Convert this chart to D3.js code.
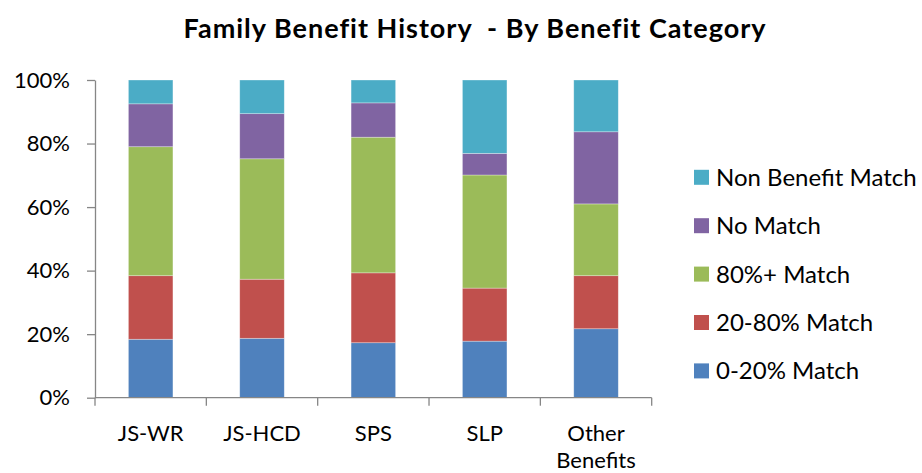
<!DOCTYPE html>
<html lang="en">
<head>
    <meta charset="UTF-8">
    <script src="https://d3js.org/d3.v7.min.js" charset="utf-8"></script>
    <title>Family Benefit History</title>
    <style>
        body { margin: 0; background: white; }
        svg text { font-family: Lato, "Open Sans", sans-serif; fill: #000; }
    </style>
</head>
<body>
<div id="chart"></div>

<script>
    const width = 922;
    const height = 473;

    // Categories and series (percent of each bar)
    const categories = ["JS-WR", "JS-HCD", "SPS", "SLP", "Other Benefits"];
    const seriesNames = ["0-20% Match", "20-80% Match", "80%+ Match", "No Match", "Non Benefit Match"];
    const match0to20 = [18.4, 18.7, 17.3, 17.8, 21.7];
    const match20to80 = [20.0, 18.6, 22.0, 16.7, 16.7];
    const match80plus = [40.6, 37.9, 42.7, 35.6, 22.6];
    const noMatch = [13.5, 14.2, 10.8, 6.8, 22.7];
    const nonBenefit = [7.5, 10.6, 7.2, 23.1, 16.3];
    const yTicks = [0, 20, 40, 60, 80, 100];
    const colors = ["#4F81BD", "#C0504D", "#9BBB59", "#8064A2", "#4BACC6"];

    const seriesValues = [match0to20, match20to80, match80plus, noMatch, nonBenefit];

    // build rows for d3.stack
    const rows = categories.map((c, i) => {
        const r = { category: c };
        seriesNames.forEach((s, j) => r[s] = seriesValues[j][i]);
        return r;
    });

    const stacked = d3.stack().keys(seriesNames)(rows);

    const margin = { left: 95, right: 270, top: 80, bottom: 75 };

    const svg = d3.select("#chart").append("svg")
        .attr("width", width)
        .attr("height", height);

    const x = d3.scaleBand()
        .domain(categories)
        .range([margin.left, 651.7])
        .paddingInner(0.6)
        .paddingOuter(0.3);

    const y = d3.scaleLinear()
        .domain([0, 100])
        .range([397.7, 80]);

    const color = d3.scaleOrdinal().domain(seriesNames).range(colors);

    // Title
    svg.append("text")
        .attr("x", 475)
        .attr("y", 38)
        .attr("text-anchor", "middle")
        .attr("font-size", 27)
        .attr("font-weight", "bold")
        .attr("letter-spacing", 1)
        .style("white-space", "pre")
        .text("Family Benefit History  - By Benefit Category");

    // Bars
    svg.append("g")
        .selectAll("g")
        .data(stacked)
        .join("g")
        .attr("fill", d => color(d.key))
        .selectAll("rect")
        .data(d => d)
        .join("rect")
        .attr("x", d => x(d.data.category))
        .attr("y", d => y(d[1]))
        .attr("width", x.bandwidth())
        .attr("height", d => y(d[0]) - y(d[1]))
        .attr("stroke", "rgba(255,255,255,0.45)")
        .attr("stroke-width", 0.7);

    // Y axis
    const yAxis = svg.append("g")
        .attr("transform", `translate(${margin.left},0)`)
        .call(d3.axisLeft(y).tickValues(yTicks).tickFormat(d => d + "%").tickSize(8).tickSizeOuter(0));

    yAxis.select(".domain").attr("stroke", "#868686").attr("stroke-width", 1.3);
    yAxis.selectAll(".tick line").attr("stroke", "#868686").attr("stroke-width", 1.3);
    yAxis.selectAll(".tick text")
        .attr("x", -25)
        .attr("font-size", 22)
        .attr("font-family", "Lato, sans-serif");

    // X axis: ticks at category boundaries (Excel style)
    const xAxisG = svg.append("g")
        .attr("transform", `translate(0,${y(0)})`);

    xAxisG.append("line")
        .attr("x1", margin.left)
        .attr("x2", 651.7)
        .attr("stroke", "#868686")
        .attr("stroke-width", 1.3);

    const step = x.step();
    const boundaries = d3.range(categories.length + 1).map(i => margin.left + i * step);
    xAxisG.selectAll(".bt")
        .data(boundaries)
        .join("line")
        .attr("x1", d => d)
        .attr("x2", d => d)
        .attr("y1", 0)
        .attr("y2", 8)
        .attr("stroke", "#868686")
        .attr("stroke-width", 1.3);

    const xLabels = xAxisG.selectAll(".xl")
        .data(categories)
        .join("text")
        .attr("x", d => x(d) + x.bandwidth() / 2)
        .attr("y", 43.5)
        .attr("text-anchor", "middle")
        .attr("font-size", 22);

    xLabels.each(function (d) {
        const words = d === "Other Benefits" ? ["Other", "Benefits"] : [d];
        d3.select(this).selectAll("tspan")
            .data(words)
            .join("tspan")
            .attr("x", x(d) + x.bandwidth() / 2)
            .attr("dy", (w, i) => i === 0 ? 0 : 27)
            .text(w => w);
    });

    // Legend (top series first)
    const legend = svg.append("g")
        .selectAll("g")
        .data(seriesNames.slice().reverse())
        .join("g")
        .attr("transform", (d, i) => `translate(694,${177.3 + i * 48.4})`);

    legend.append("rect")
        .attr("x", 0)
        .attr("y", -7.5)
        .attr("width", 15)
        .attr("height", 15)
        .attr("fill", d => color(d));

    legend.append("text")
        .attr("x", 22)
        .attr("y", 0)
        .attr("dy", "0.35em")
        .attr("font-size", 24)
        .text(d => d);
</script>
</body>
</html>
